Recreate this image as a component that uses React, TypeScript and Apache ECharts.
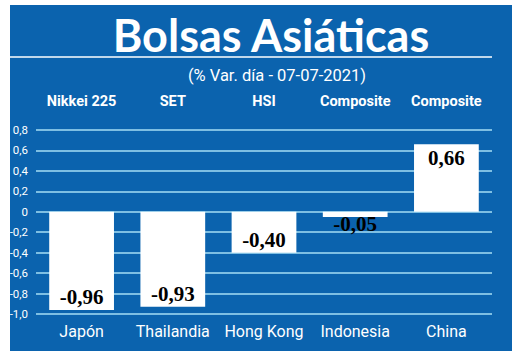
import React, { useEffect, useRef } from "react";
import * as echarts from "echarts";

const countries = ["Japón", "Thailandia", "Hong Kong", "Indonesia", "China"];
const indices = ["Nikkei 225", "SET", "HSI", "Composite", "Composite"];
const values = [-0.96, -0.93, -0.4, -0.05, 0.66];
const yTicks = { min: -1.0, max: 0.8, interval: 0.2 };

const BLUE = "#0b63ae";
const GRID = "#a6def5";

const fmt = (v: number) => v.toFixed(2).replace(".", ",");

export default function App() {
  const ref = useRef<HTMLDivElement>(null);
  useEffect(() => {
    if (!ref.current) return;
    const chart = echarts.init(ref.current, null, { renderer: "svg" });
    const labelFor = (v: number) => {
      if (v >= 0) return { position: "insideTop", distance: 3 };
      if (v > -0.2) return { position: "bottom", distance: -3 };
      return { position: "insideBottom", distance: 2 };
    };
    chart.setOption({
      animation: false,
      backgroundColor: "#ffffff",
      graphic: [
        { type: "rect", z: -10, shape: { x: 10, y: 5, width: 502, height: 346 }, style: { fill: BLUE } },
        { type: "line", z: -5, shape: { x1: 10, y1: 57, x2: 492, y2: 57 }, style: { stroke: "#ffffff", lineWidth: 1.5 } },
      ],
      title: [
        {
          text: "Bolsas Asiáticas",
          left: 266,
          top: 7,
          textAlign: "center",
          textStyle: { color: "#ffffff", fontFamily: "Lato", fontWeight: "bold", fontSize: 45 },
        },
        {
          text: "(% Var. día - 07-07-2021)",
          left: 272,
          top: 62,
          textAlign: "center",
          textStyle: { color: "#ffffff", fontFamily: "Roboto", fontWeight: "normal", fontSize: 16.5 },
        },
      ],
      grid: { left: 36, right: 28, top: 130, bottom: 39, containLabel: false },
      xAxis: [
        {
          type: "category",
          data: countries,
          position: "bottom",
          axisLine: { show: false },
          axisTick: { show: false },
          axisLabel: { color: "#ffffff", fontFamily: "Roboto", fontSize: 16, margin: 9, interval: 0 },
        },
        {
          type: "category",
          data: indices,
          position: "top",
          axisLine: { show: false },
          axisTick: { show: false },
          axisLabel: {
            color: "#ffffff",
            fontFamily: "Roboto",
            fontWeight: "bold",
            fontSize: 14.5,
            margin: 21,
            interval: 0,
          },
        },
      ],
      yAxis: {
        type: "value",
        min: yTicks.min,
        max: yTicks.max,
        interval: yTicks.interval,
        axisLine: { show: false },
        axisTick: { show: false },
        splitLine: { lineStyle: { color: GRID, width: 1.5 } },
        axisLabel: {
          color: "#ffffff",
          fontFamily: "Roboto",
          fontSize: 11.5,
          margin: 8,
          formatter: (v: number) => (Math.abs(v) < 1e-9 ? "0" : v.toFixed(1).replace(".", ",")),
        },
      },
      series: [
        {
          type: "bar",
          xAxisIndex: 0,
          barWidth: "71%",
          data: values.map((v) => ({
            value: v,
            label: {
              show: true,
              ...labelFor(v),
              formatter: () => fmt(v),
              color: "#000000",
              fontFamily: "'Liberation Serif', 'DejaVu Serif', serif",
              fontWeight: "bold",
              fontSize: 21,
            },
          })),
          itemStyle: { color: "#ffffff" },
        },
      ],
    });
    return () => chart.dispose();
  }, []);
  return <div ref={ref} style={{ position: "fixed", left: 0, top: 0, width: 520, height: 353 }} />;
}
